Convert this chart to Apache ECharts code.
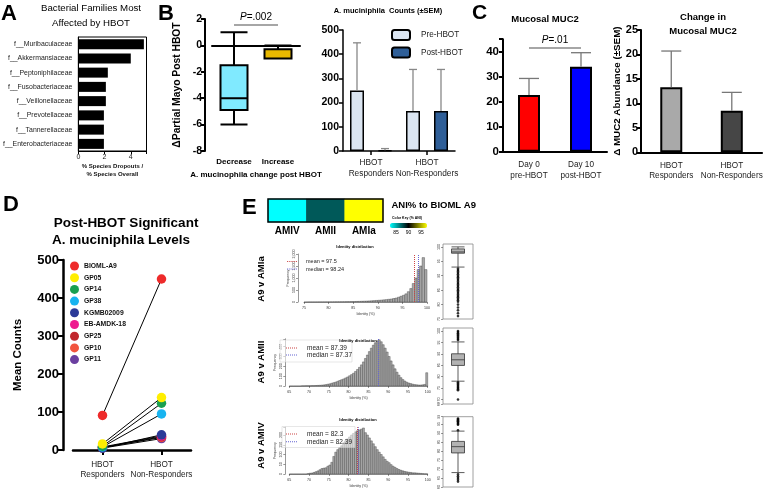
<!DOCTYPE html>
<html><head><meta charset="utf-8">
<script src="https://cdn.jsdelivr.net/npm/echarts@6/dist/echarts.min.js"></script>
<style>html,body{margin:0;padding:0;background:#fff}#c{width:765px;height:492px}</style>
</head><body><div id="c"></div>
<script>
// ---------------- DATA ----------------
const families = ['f__Muribaculaceae','f__Akkermansiaceae','f__Peptoniphilaceae','f__Fusobacteriaceae','f__Veillonellaceae','f__Prevotellaceae','f__Tannerellaceae','f__Enterobacteriaceae'];
const familyRatios = [5.0, 4.0, 2.25, 2.1, 2.1, 1.95, 1.95, 1.95];

const changeGroups = ['Decrease', 'Increase'];
const changeBox = [[-6, -4.9, -4, -1.5, 1], [-1, -1, -1, -0.3, 0]]; // min,q1,median,q3,max
const pValueB = 'P=.002';

const respGroups = ['HBOT\nResponders', 'HBOT\nNon-Responders'];
const akkPre = [250, 165];
const akkPreSEM = [197, 172];
const akkPost = [3, 165];
const akkPostSEM = [7, 172];

const mucDays = ['Day 0\npre-HBOT', 'Day 10\npost-HBOT'];
const mucValues = [22.7, 34];
const mucSEM = [6.6, 5.6];
const pValueC = 'P=.01';

const mucChange = [13.3, 8.5];
const mucChangeSEM = [7.4, 3.75];

const strainNames = ['BIOML-A9','GP05','GP14','GP38','KGMB02009','EB-AMDK-18','GP25','GP10','GP11'];
const strainResponders = [91, 16, 10, 8, 5, 8, 6, 7, 5];
const strainNonResponders = [450, 138, 123, 95, 40, 37, 35, 33, 30];

const aniGroups = ['AMIV', 'AMII', 'AMIa'];
const aniValues = [82.3, 87.39, 97.5];
const aniKeyTicks = ['85', '90', '95'];

const hist1Start = 75, hist1Bin = 0.5;
const hist1Counts = [0,2,3,3,3,4,4,5,5,6, 6,7,8,9,10,11,12,14,16,18, 20,23,26,30,34,38,43,50,57,65, 72,80,90,100,112,125,145,165,200,240, 280,340,430,560,770,1000,1350,1500,1850,1350];
const hist2Start = 65, hist2Bin = 0.5;
const hist2Counts = [0,0,0,0,0,0,2,2,3,3, 3,4,4,5,6,7,9,11,14,18, 22,28,34,40,48,56,64,72,82,92, 104,116,130,148,168,190,215,245,280,315, 350,385,415,440,460,470,450,420,385,345, 300,255,215,175,140,110,85,65,50,38, 30,24,18,14,12,10,10,12,16,135];
const hist3Start = 65, hist3Bin = 0.5;
const hist3Counts = [0,0,0,0,0,0,0,0,0,2, 4,5,8,12,16,22,28,30,32,40, 46,60,90,112,125,135,145,160,170,180, 190,200,208,216,222,226,230,236,212,200, 185,170,155,140,125,112,100,88,75,65, 58,48,40,34,28,23,19,16,13,11, 9,8,6,6,5,4,3,2,1,1];
const histMeans = [97.5, 87.39, 82.3];
const histMedians = [98.24, 87.37, 82.39];

const box1Stats = [93, 97.8, 98.24, 99.3, 100];
const box1Outliers = [92.5,92,91.5,91,90.5,90,89.5,89,88.5,88,87.5,87,86.5,86,85.5,85,84.5,84,83.5,83,82.5,82,81.5,81,80,79,78,77,76];
const box2Stats = [78, 84.9, 87.37, 90, 95.2];
const box2Outliers = [96,96.5,97,97.5,98,98.5,99,99.5,100, 77.5,77,76.5,76,75.5,75,74.5,74,70];
const box3Stats = [68, 78.9, 82.39, 85.3, 91];
const box3Outliers = [94.5,95,95.5,96,96.5,97,97.5,98,91.5, 67,66,65,64,63];

// ---------------- STYLE ----------------
const FF = '"Liberation Sans", Arial, Helvetica, sans-serif';
const strainColors = ['#ee2b2b','#ffee00','#1aa050','#18b4f0','#2b3a98','#ee1a8e','#c1272d','#f2543e','#6b3fa0'];
const mucColors = ['#ff0000', '#0000ff'];
const mucChangeColors = ['#a9a9a9', '#464646'];
const boxColors = ['#80eaff', '#e8b800'];
const dottedIcon = 'path://M0,0h2v2h-2z M4,0h2v2h-2z M8,0h2v2h-2z M12,0h2v2h-2z M16,0h2v2h-2z M20,0h2v2h-2z';

const chart = echarts.init(document.getElementById('c'), null, {renderer: 'canvas', width: 765, height: 492});

function errBars(ai, vals, sems, offset, capW, color) {
  return {
    type: 'custom', xAxisIndex: ai, yAxisIndex: ai, z: 3, silent: true,
    data: vals.map((v, i) => [i, v, v + sems[i]]),
    renderItem: (params, api) => {
      const p0 = api.coord([api.value(0), api.value(1)]);
      const p1 = api.coord([api.value(0), api.value(2)]);
      const x = p0[0] + offset;
      return {type: 'group', children: [
        {type: 'line', shape: {x1: x, y1: p0[1], x2: x, y2: p1[1]}, style: {stroke: color, lineWidth: 1.3}},
        {type: 'line', shape: {x1: x - capW / 2, y1: p1[1], x2: x + capW / 2, y2: p1[1]}, style: {stroke: color, lineWidth: 1.3}}
      ]};
    }
  };
}
function histSeries(ai, start, bin, counts) {
  return {
    type: 'custom', xAxisIndex: ai, yAxisIndex: ai, z: 2, clip: false, silent: true,
    data: counts.map((c, i) => [start + i * bin, start + (i + 1) * bin, c]),
    renderItem: (params, api) => {
      const a = api.coord([api.value(0), api.value(2)]);
      const b = api.coord([api.value(1), 0]);
      return {type: 'rect', shape: {x: a[0], y: a[1], width: b[0] - a[0], height: b[1] - a[1]},
        style: {fill: '#a8a8a8', stroke: '#3c3c3c', lineWidth: 0.4}};
    }
  };
}
function statLine(ai, name, value, color) {
  return {
    type: 'line', name: name, xAxisIndex: ai, yAxisIndex: ai, data: [], symbol: 'none', z: 5,
    lineStyle: {color: color, type: 'dotted', width: 1}, itemStyle: {color: color},
    markLine: {silent: true, symbol: ['none', 'none'], label: {show: false},
      lineStyle: {color: color, type: 'dotted', width: 1}, data: [{xAxis: value}]}
  };
}
const blackAxis = (w) => ({show: true, lineStyle: {color: '#000', width: w}});
const tinyAxisLine = {show: true, lineStyle: {color: '#333', width: 0.5}};
const tinyTick = {show: true, length: 2, lineStyle: {color: '#333', width: 0.5}};
const tinyLabel = {fontSize: 3.6, color: '#333', margin: 2};

const grids = [
  {left: 77, top: 37, width: 69.5, height: 114, show: true, borderColor: '#000', borderWidth: 1}, // 0 A
  {left: 212, top: 19, width: 88, height: 132},   // 1 B box
  {left: 343, top: 30, width: 112, height: 121},  // 2 B bars
  {left: 503, top: 39.2, width: 104, height: 112.5}, // 3 C1
  {left: 641, top: 30, width: 124, height: 122.3},  // 4 C2
  {left: 73, top: 260, width: 118, height: 190},   // 5 D
  {left: 268, top: 199, width: 115, height: 23, show: true, borderColor: '#000', borderWidth: 1.5, z: 5}, // 6 E heat
  {left: 304, top: 254, width: 123, height: 48},   // 7 H1
  {left: 289.3, top: 338.8, width: 138.4, height: 47.2}, // 8 H2
  {left: 289.3, top: 427.2, width: 138.4, height: 46.8}, // 9 H3
  {left: 443, top: 244, width: 30, height: 75, show: true, borderColor: '#888', borderWidth: 0.8}, // 10
  {left: 443, top: 328, width: 30, height: 76, show: true, borderColor: '#888', borderWidth: 0.8}, // 11
  {left: 443, top: 416.7, width: 30, height: 73.3, show: true, borderColor: '#888', borderWidth: 0.8} // 12
];

const xAxes = [
  {gridIndex: 0, type: 'value', min: 0, max: 5.2, interval: 2, splitLine: {show: false},
    axisLine: blackAxis(1), axisTick: {show: true, length: 3, lineStyle: {color: '#000'}},
    axisLabel: {fontSize: 7, color: '#222', margin: 3, formatter: v => (v % 2 === 0 ? String(v) : '')},
    name: '% Species Dropouts /\n% Species Overall', nameLocation: 'middle', nameGap: 10,
    nameTextStyle: {fontSize: 6, fontWeight: 'bold', lineHeight: 8, color: '#111', verticalAlign: 'top'}},
  {gridIndex: 1, type: 'category', data: changeGroups, axisLine: blackAxis(2), axisTick: {show: false},
    axisLabel: {interval: 0, fontSize: 8, fontWeight: 'bold', color: '#000', margin: 7},
    name: 'A. mucinophila change post HBOT', nameLocation: 'middle', nameGap: 20,
    nameTextStyle: {fontSize: 8, fontWeight: 'bold', color: '#000', verticalAlign: 'top'}},
  {gridIndex: 2, type: 'category', data: respGroups, axisLine: blackAxis(1.5),
    axisTick: {show: true, alignWithLabel: true, interval: 0, length: 4, lineStyle: {color: '#000', width: 1.5}},
    axisLabel: {interval: 0, fontSize: 8.3, color: '#222', lineHeight: 11, margin: 6}},
  {gridIndex: 3, type: 'category', data: mucDays, axisLine: blackAxis(2), axisTick: {show: false},
    axisLabel: {interval: 0, fontSize: 8.2, color: '#222', lineHeight: 11, margin: 8}},
  {gridIndex: 4, type: 'category', data: respGroups, axisLine: blackAxis(2), axisTick: {show: false},
    axisLabel: {interval: 0, fontSize: 8.2, color: '#222', lineHeight: 10.5, margin: 8}},
  {gridIndex: 5, type: 'category', data: respGroups, axisLine: blackAxis(2.5),
    axisTick: {show: true, alignWithLabel: true, interval: 0, length: 5, lineStyle: {color: '#000', width: 2}},
    axisLabel: {interval: 0, fontSize: 8.2, color: '#222', lineHeight: 10.5, margin: 9}},
  {gridIndex: 6, type: 'category', data: aniGroups, axisLine: {show: false}, axisTick: {show: false},
    axisLabel: {interval: 0, fontSize: 10, fontWeight: 'bold', color: '#000', margin: 4}},
  {gridIndex: 7, type: 'value', min: 75, max: 100, interval: 5, offset: 2, splitLine: {show: false},
    axisLine: tinyAxisLine, axisTick: tinyTick, axisLabel: tinyLabel,
    name: 'Identity (%)', nameLocation: 'middle', nameGap: 8, nameTextStyle: {fontSize: 3.6, color: '#333'}},
  {gridIndex: 8, type: 'value', min: 65, max: 100, interval: 5, offset: 1.5, splitLine: {show: false},
    axisLine: tinyAxisLine, axisTick: tinyTick, axisLabel: tinyLabel,
    name: 'Identity (%)', nameLocation: 'middle', nameGap: 8, nameTextStyle: {fontSize: 3.6, color: '#333'}},
  {gridIndex: 9, type: 'value', min: 65, max: 100, interval: 5, offset: 1.5, splitLine: {show: false},
    axisLine: tinyAxisLine, axisTick: tinyTick, axisLabel: tinyLabel,
    name: 'Identity (%)', nameLocation: 'middle', nameGap: 8, nameTextStyle: {fontSize: 3.6, color: '#333'}},
  {gridIndex: 10, type: 'category', data: [''], show: false},
  {gridIndex: 11, type: 'category', data: [''], show: false},
  {gridIndex: 12, type: 'category', data: [''], show: false}
];

const yAxes = [
  {gridIndex: 0, type: 'category', data: families, inverse: true, axisLine: blackAxis(1), axisTick: {show: false},
    axisLabel: {interval: 0, fontSize: 6.9, color: '#222', margin: 6}},
  {gridIndex: 1, type: 'value', min: -8, max: 2, interval: 2, offset: 7, splitLine: {show: false},
    axisLine: blackAxis(2), axisTick: {show: true, length: 4, lineStyle: {color: '#000', width: 2}},
    axisLabel: {fontSize: 10.5, fontWeight: 'bold', color: '#000', margin: 3},
    name: 'ΔPartial Mayo Post HBOT', nameLocation: 'middle', nameGap: 23, nameRotate: 90,
    nameTextStyle: {fontSize: 10.3, fontWeight: 'bold', color: '#000'}},
  {gridIndex: 2, type: 'value', min: 0, max: 500, interval: 100, splitLine: {show: false},
    axisLine: blackAxis(1.5), axisTick: {show: true, length: 4, lineStyle: {color: '#000', width: 1.5}},
    axisLabel: {fontSize: 10.5, fontWeight: 'bold', color: '#000', margin: 4}},
  {gridIndex: 3, type: 'value', min: 0, max: 45, interval: 10, splitLine: {show: false},
    axisLine: blackAxis(2), axisTick: {show: true, length: 4, lineStyle: {color: '#000', width: 2}},
    axisLabel: {fontSize: 11.5, fontWeight: 'bold', color: '#000', margin: 4, formatter: v => (v % 10 === 0 ? String(v) : '')}},
  {gridIndex: 4, type: 'value', min: 0, max: 25, interval: 5, splitLine: {show: false},
    axisLine: blackAxis(2), axisTick: {show: true, length: 4, lineStyle: {color: '#000', width: 2}},
    axisLabel: {fontSize: 11, fontWeight: 'bold', color: '#000', margin: 3},
    name: 'Δ MUC2 Abundance (±SEM)', nameLocation: 'middle', nameGap: 16, nameRotate: 90,
    nameTextStyle: {fontSize: 9.8, fontWeight: 'bold', color: '#000'}},
  {gridIndex: 5, type: 'value', min: 0, max: 500, interval: 100, offset: 10, splitLine: {show: false},
    axisLine: blackAxis(2.5), axisTick: {show: true, length: 5, lineStyle: {color: '#000', width: 2}},
    axisLabel: {fontSize: 13, fontWeight: 'bold', color: '#000', margin: 4},
    name: 'Mean Counts', nameLocation: 'middle', nameGap: 39, nameRotate: 90,
    nameTextStyle: {fontSize: 11.5, fontWeight: 'bold', color: '#000'}},
  {gridIndex: 6, type: 'category', data: [''], show: false},
  {gridIndex: 7, type: 'value', min: 0, max: 2000, interval: 500, offset: 6, splitLine: {show: false},
    axisLine: tinyAxisLine, axisTick: tinyTick, axisLabel: Object.assign({rotate: 90}, tinyLabel),
    name: 'Frequency', nameLocation: 'middle', nameGap: 8, nameTextStyle: {fontSize: 3.6, color: '#333'}},
  {gridIndex: 8, type: 'value', min: 0, max: 480, interval: 100, offset: 4, splitLine: {show: false},
    axisLine: tinyAxisLine, axisTick: tinyTick, axisLabel: Object.assign({rotate: 90, formatter: v => (v % 100 === 0 ? String(v) : '')}, tinyLabel),
    name: 'Frequency', nameLocation: 'middle', nameGap: 8, nameTextStyle: {fontSize: 3.6, color: '#333'}},
  {gridIndex: 9, type: 'value', min: 0, max: 240, interval: 50, offset: 4, splitLine: {show: false},
    axisLine: tinyAxisLine, axisTick: tinyTick, axisLabel: Object.assign({rotate: 90, formatter: v => (v % 50 === 0 ? String(v) : '')}, tinyLabel),
    name: 'Frequency', nameLocation: 'middle', nameGap: 8, nameTextStyle: {fontSize: 3.6, color: '#333'}},
  {gridIndex: 10, type: 'value', min: 75, max: 101, splitLine: {show: false}, axisLine: {show: false}, axisTick: tinyTick,
    axisLabel: Object.assign({rotate: 90}, tinyLabel), splitNumber: 5},
  {gridIndex: 11, type: 'value', min: 68, max: 101.3, splitLine: {show: false}, axisLine: {show: false}, axisTick: tinyTick,
    axisLabel: Object.assign({rotate: 90}, tinyLabel), splitNumber: 6},
  {gridIndex: 12, type: 'value', min: 60, max: 99, splitLine: {show: false}, axisLine: {show: false}, axisTick: tinyTick,
    axisLabel: Object.assign({rotate: 90}, tinyLabel), splitNumber: 6}
];

const series = [];
// A
series.push({type: 'bar', xAxisIndex: 0, yAxisIndex: 0, data: familyRatios, barWidth: 10, itemStyle: {color: '#000'}, silent: true});
// B box
series.push({
  type: 'boxplot', xAxisIndex: 1, yAxisIndex: 1, boxWidth: [27, 27], silent: true,
  data: changeBox.map((b, i) => ({value: b, itemStyle: {color: boxColors[i], borderColor: '#000', borderWidth: 2}})),
  itemStyle: {borderColor: '#000', borderWidth: 2},
  markLine: {silent: true, symbol: ['none', 'none'],
    data: [
      {yAxis: 0, lineStyle: {type: 'dotted', color: '#000', width: 1.2}, label: {show: false}},
      [{coord: [changeGroups[0], 1.6], lineStyle: {type: 'solid', color: '#888', width: 1.5},
        label: {show: true, position: 'insideMiddleTop', distance: 2, formatter: '{i|P}{n|' + pValueB.slice(1) + '}',
          rich: {i: {fontStyle: 'italic', fontSize: 10, color: '#000', fontFamily: FF}, n: {fontSize: 10, color: '#000', fontFamily: FF}}}},
       {coord: [changeGroups[1], 1.6]}]
    ]}
});
// B bars
series.push({type: 'bar', name: 'Pre-HBOT', xAxisIndex: 2, yAxisIndex: 2, data: akkPre, barWidth: 14, barGap: '100%',
  itemStyle: {color: '#dbe5f1', borderColor: '#000', borderWidth: 1.5}, silent: true});
series.push({type: 'bar', name: 'Post-HBOT', xAxisIndex: 2, yAxisIndex: 2, data: akkPost, barWidth: 14, barGap: '100%',
  itemStyle: {color: '#2f5f98', borderColor: '#000', borderWidth: 1.5}, silent: true});
series.push(errBars(2, akkPre, akkPreSEM, -14, 8, '#888'));
series.push(errBars(2, akkPost, akkPostSEM, 14, 8, '#888'));
// C1
series.push({type: 'bar', xAxisIndex: 3, yAxisIndex: 3, barWidth: 22, silent: true,
  data: mucValues.map((v, i) => ({value: v, itemStyle: {color: mucColors[i]}})),
  itemStyle: {borderColor: '#000', borderWidth: 2},
  markLine: {silent: true, symbol: ['none', 'none'],
    data: [[{coord: [0, 41.6], lineStyle: {type: 'solid', color: '#888', width: 1.5},
      label: {show: true, position: 'insideMiddleTop', distance: 2, formatter: '{i|P}{n|' + pValueC.slice(1) + '}',
        rich: {i: {fontStyle: 'italic', fontSize: 10, color: '#000', fontFamily: FF}, n: {fontSize: 10, color: '#000', fontFamily: FF}}}},
      {coord: [1, 41.6]}]]}
});
series.push(errBars(3, mucValues, mucSEM, 0, 20, '#777'));
// C2
series.push({type: 'bar', xAxisIndex: 4, yAxisIndex: 4, barWidth: 22, silent: true,
  data: mucChange.map((v, i) => ({value: v, itemStyle: {color: mucChangeColors[i]}})),
  itemStyle: {borderColor: '#000', borderWidth: 2}});
series.push(errBars(4, mucChange, mucChangeSEM, 0, 20, '#777'));
// D
strainNames.forEach((n, i) => {
  series.push({type: 'line', name: 'link ' + n, xAxisIndex: 5, yAxisIndex: 5, data: [strainResponders[i], strainNonResponders[i]],
    showSymbol: false, symbol: 'none', lineStyle: {color: '#000', width: 1}, z: 2, silent: true});
});
strainNames.forEach((n, i) => {
  series.push({type: 'scatter', name: n, xAxisIndex: 5, yAxisIndex: 5, data: [strainResponders[i], strainNonResponders[i]],
    symbolSize: 9.5, itemStyle: {color: strainColors[i], opacity: 1}, z: 3 + (strainNames.length - i) * 0.01, silent: true});
});
// E heat
const heatIndex = series.length;
series.push({type: 'heatmap', xAxisIndex: 6, yAxisIndex: 6, data: aniValues.map((v, i) => [i, 0, v]), silent: true});
// histograms
series.push(histSeries(7, hist1Start, hist1Bin, hist1Counts));
series.push(histSeries(8, hist2Start, hist2Bin, hist2Counts));
series.push(histSeries(9, hist3Start, hist3Bin, hist3Counts));
const meanNames = histMeans.map(m => 'mean = ' + m);
const medianNames = histMedians.map(m => 'median = ' + m);
[7, 8, 9].forEach((ai, k) => {
  series.push(statLine(ai, meanNames[k], histMeans[k], '#cc4444'));
  series.push(statLine(ai, medianNames[k], histMedians[k], '#6464d2'));
});
// boxes
[[box1Stats, box1Outliers], [box2Stats, box2Outliers], [box3Stats, box3Outliers]].forEach((bo, k) => {
  const ai = 10 + k;
  series.push({type: 'boxplot', xAxisIndex: ai, yAxisIndex: ai, data: [bo[0]], boxWidth: [13, 13], silent: true,
    itemStyle: {color: '#b2b2b2', borderColor: '#333', borderWidth: 0.8}});
  series.push({type: 'scatter', xAxisIndex: ai, yAxisIndex: ai, data: bo[1].map(v => [0, v]), symbolSize: 2.6,
    itemStyle: {color: '#000'}, silent: true});
});

const legends = [
  {data: ['Pre-HBOT', 'Post-HBOT'], orient: 'vertical', left: 391, top: 29, itemWidth: 18, itemHeight: 10, itemGap: 5.5, padding: 0,
    selectedMode: false, textStyle: {fontSize: 8.2, color: '#222', padding: [0, 0, 0, 6]}},
  {data: strainNames, orient: 'vertical', left: 70, top: 261.5, itemWidth: 9, itemHeight: 9, itemGap: 2.7, padding: 0, icon: 'circle',
    selectedMode: false, textStyle: {fontSize: 6.8, fontWeight: 'bold', color: '#111', padding: [0, 0, 0, 0]}},
  {data: [meanNames[0], medianNames[0]], orient: 'vertical', left: 287, top: 258.5, itemWidth: 10, itemHeight: 1.1, itemGap: 1.5, padding: 0,
    icon: dottedIcon, selectedMode: false, textStyle: {fontSize: 5.5, color: '#222', padding: [0, 0, 0, 4]}},
  {data: [meanNames[1], medianNames[1]], orient: 'vertical', left: 286, top: 344.5, itemWidth: 11, itemHeight: 1.2, itemGap: 0, padding: 0,
    icon: dottedIcon, selectedMode: false, textStyle: {fontSize: 6.5, color: '#222', padding: [0, 0, 0, 5]}, z: 10},
  {data: [meanNames[2], medianNames[2]], orient: 'vertical', left: 286, top: 430.5, itemWidth: 11, itemHeight: 1.2, itemGap: 0.8, padding: 0,
    icon: dottedIcon, selectedMode: false, textStyle: {fontSize: 6.5, color: '#222', padding: [0, 0, 0, 5]}, z: 10}
];

function txt(text, x, y, size, weight, align, extra) {
  return Object.assign({type: 'text', x: x, y: y, silent: true, z: 20,
    style: {text: text, fontSize: size, fontWeight: weight || 'normal', fontFamily: FF, fill: '#000',
      align: align || 'center', verticalAlign: 'middle'}}, extra || {});
}
const graphics = [
  txt('A', 1, 14, 22, 'bold', 'left'),
  txt('B', 158, 14, 22, 'bold', 'left'),
  txt('C', 472, 13, 21, 'bold', 'left'),
  txt('D', 3, 205, 22, 'bold', 'left'),
  txt('E', 242, 208, 22, 'bold', 'left'),
  txt('Bacterial Families Most', 91, 8, 9.7, 'normal'),
  txt('Affected by HBOT', 91, 23.5, 9.7, 'normal'),
  txt('A. muciniphila  Counts (±SEM)', 388, 11, 7.5, 'bold'),
  txt('Mucosal MUC2', 545, 19, 9.5, 'bold'),
  txt('Change in', 703, 17.5, 9.5, 'bold'),
  txt('Mucosal MUC2', 703, 31, 9.5, 'bold'),
  txt('Post-HBOT Significant', 126, 223, 13.5, 'bold'),
  txt('A. muciniphila Levels', 121, 240, 13.5, 'bold'),
  txt('ANI% to BIOML A9', 391.5, 205, 9.5, 'bold', 'left'),
  txt('Color Key (% ANI)', 392, 218.5, 3.5, 'bold', 'left'),
  txt(aniKeyTicks[0], 396, 233, 5, 'normal'),
  txt(aniKeyTicks[1], 408.5, 233, 5, 'normal'),
  txt(aniKeyTicks[2], 421, 233, 5, 'normal'),
  txt('Identity distribution', 355, 247, 4, 'bold'),
  txt('Identity distribution', 358, 341, 4, 'bold'),
  txt('Identity distribution', 358, 420, 4, 'bold'),
  txt('A9 v AMIa', 261, 279, 9.5, 'bold', 'center', {rotation: Math.PI / 2}),
  txt('A9 v AMII', 261, 362, 9.5, 'bold', 'center', {rotation: Math.PI / 2}),
  txt('A9 v AMIV', 261, 445.5, 9.5, 'bold', 'center', {rotation: Math.PI / 2}),
  {type: 'rect', silent: true, z: 8, shape: {x: 280, y: 340, width: 72, height: 22},
    style: {fill: 'rgba(255,255,255,0.55)', stroke: '#cfcfcf', lineWidth: 0.5}},
  {type: 'rect', silent: true, z: 8, shape: {x: 282, y: 426.5, width: 73, height: 21},
    style: {fill: 'rgba(255,255,255,0.55)', stroke: '#cfcfcf', lineWidth: 0.5}}
];

chart.setOption({
  animation: false,
  backgroundColor: '#fff',
  textStyle: {fontFamily: FF},
  grid: grids,
  xAxis: xAxes,
  yAxis: yAxes,
  legend: legends,
  visualMap: [{type: 'continuous', min: 82.5, max: 97.5, seriesIndex: heatIndex, orient: 'horizontal',
    left: 390, top: 223, itemWidth: 5, itemHeight: 37, padding: 0, calculable: false, text: null, hoverLink: false,
    inRange: {color: ['#00ffff', '#000000', '#ffff00']}, textStyle: {fontSize: 1, color: 'rgba(0,0,0,0)'}}],
  graphic: graphics,
  series: series
});
</script>
</body></html>
